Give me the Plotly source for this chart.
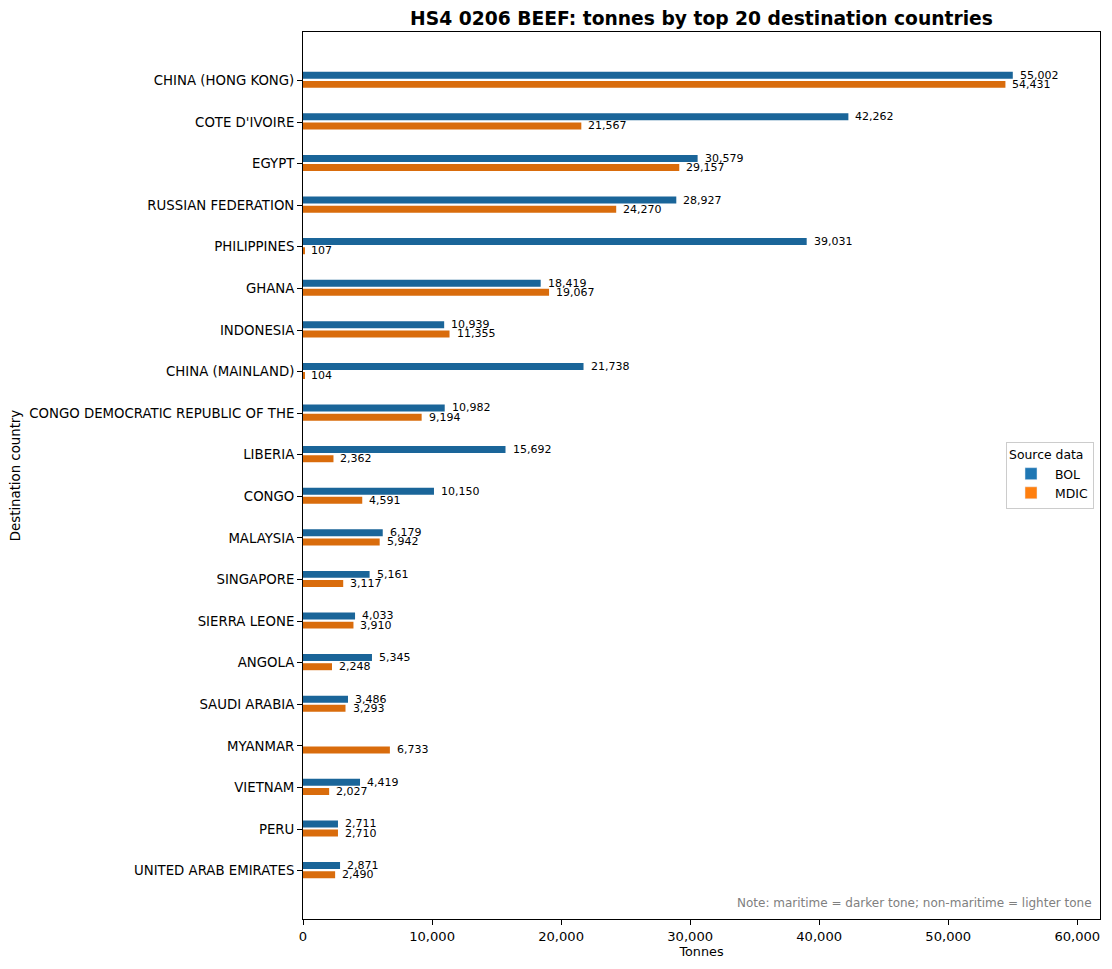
import plotly.graph_objects as go

countries = ["CHINA (HONG KONG)", "COTE D'IVOIRE", "EGYPT", "RUSSIAN FEDERATION", "PHILIPPINES",
             "GHANA", "INDONESIA", "CHINA (MAINLAND)", "CONGO DEMOCRATIC REPUBLIC OF THE", "LIBERIA",
             "CONGO", "MALAYSIA", "SINGAPORE", "SIERRA LEONE", "ANGOLA",
             "SAUDI ARABIA", "MYANMAR", "VIETNAM", "PERU", "UNITED ARAB EMIRATES"]
bol = [55002, 42262, 30579, 28927, 39031, 18419, 10939, 21738, 10982, 15692,
       10150, 6179, 5161, 4033, 5345, 3486, None, 4419, 2711, 2871]
mdic = [54431, 21567, 29157, 24270, 107, 19067, 11355, 104, 9194, 2362,
        4591, 5942, 3117, 3910, 2248, 3293, 6733, 2027, 2710, 2490]
x_ticks = [0, 10000, 20000, 30000, 40000, 50000, 60000]

FONT = "DejaVu Sans"
BOL_DARK, MDIC_DARK = "#1a6599", "#d96c0c"
BOL_LEG, MDIC_LEG = "#1f77b4", "#ff7f0e"
BOL_OFF, MDIC_OFF = -0.125, 0.095
BAR_W = 0.168

# page body has an 8px margin in the browser
W, H = 1104, 961

idx = list(range(len(countries)))
fig = go.Figure()
fig.add_trace(go.Bar(x=[v if v is not None else 0 for v in bol], y=[i + BOL_OFF for i in idx],
                     orientation="h", width=BAR_W, marker=dict(color=BOL_DARK, line=dict(width=0)),
                     showlegend=False, hoverinfo="skip"))
fig.add_trace(go.Bar(x=mdic, y=[i + MDIC_OFF for i in idx],
                     orientation="h", width=BAR_W, marker=dict(color=MDIC_DARK, line=dict(width=0)),
                     showlegend=False, hoverinfo="skip"))
fig.add_trace(go.Bar(x=[None], y=[None], orientation="h", name="BOL", marker=dict(color=BOL_LEG)))
fig.add_trace(go.Bar(x=[None], y=[None], orientation="h", name="MDIC", marker=dict(color=MDIC_LEG)))

annotations = []
for i in idx:
    for vals, off in ((bol, BOL_OFF), (mdic, MDIC_OFF)):
        v = vals[i]
        if v is None:
            continue
        annotations.append(dict(x=v, y=i + off, xref="x", yref="y", text=f"{v:,}", showarrow=False,
                                xanchor="left", yanchor="middle", xshift=5,
                                font=dict(family=FONT, size=11, color="black")))
annotations.append(dict(x=0.9925, y=0.0184, xref="paper", yref="paper", xanchor="right", yanchor="middle",
                        text="Note: maritime = darker tone; non-maritime = lighter tone", showarrow=False,
                        font=dict(family=FONT, size=12, color="#808080")))

fig.update_layout(
    width=W, height=H,
    margin=dict(l=295, r=12, t=24, b=50, autoexpand=False),
    paper_bgcolor="white", plot_bgcolor="white",
    barmode="overlay",
    font=dict(family=FONT, size=13.3, color="black"),
    title=dict(text="<b>HS4 0206 BEEF: tonnes by top 20 destination countries</b>",
               x=0.5, xref="paper", y=1 - 10 / H, yref="container", yanchor="middle", xanchor="center",
               font=dict(family=FONT, size=18.7, color="black")),
    legend=dict(title=dict(text="Source data", font=dict(family=FONT, size=12.4)),
                x=0.9925, y=0.5, xanchor="right", yanchor="middle", itemwidth=38,
                bordercolor="#cccccc", borderwidth=1, bgcolor="white",
                font=dict(family=FONT, size=12.4)),
    annotations=annotations,
)
fig.update_xaxes(range=[0, 61760], tickvals=x_ticks, tickformat=",d", showgrid=False, zeroline=False,
                 showline=True, linecolor="black", linewidth=1, mirror=True,
                 ticks="outside", ticklen=5, tickcolor="black", tickfont=dict(family=FONT, size=13.1),
                 title=dict(text="Tonnes", standoff=4, font=dict(family=FONT, size=12.8)))
fig.update_yaxes(range=[20.16, -1.164], tickvals=idx, ticktext=countries, showgrid=False, zeroline=False,
                 showline=True, linecolor="black", linewidth=1, mirror=True,
                 ticks="outside", ticklen=5, tickcolor="black", tickfont=dict(family=FONT, size=13.3),
                 title=dict(text="Destination country", standoff=8, font=dict(family=FONT, size=13.3)))

fig.write_html("out.html")
